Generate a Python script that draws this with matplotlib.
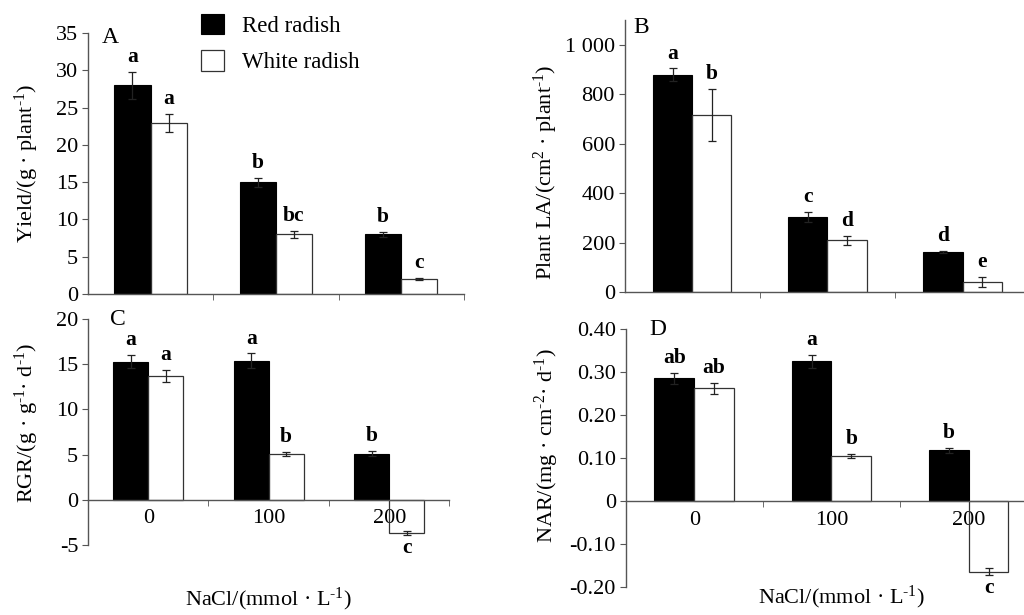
import matplotlib
matplotlib.use("Agg")
import matplotlib.pyplot as plt
import numpy as np

plt.rcParams['font.family'] = ['Liberation Serif', 'DejaVu Serif']
plt.rcParams['mathtext.fontset'] = 'custom'
plt.rcParams['mathtext.rm'] = 'Liberation Serif'
plt.rcParams['mathtext.it'] = 'Liberation Serif:italic'
plt.rcParams['mathtext.bf'] = 'Liberation Serif:bold'

categories = ["0", "100", "200"]
series_names = ["Red radish", "White radish"]

yield_red = [28.0, 15.0, 8.0]
yield_red_err = [1.8, 0.6, 0.3]
yield_white = [23.0, 8.0, 2.0]
yield_white_err = [1.2, 0.5, 0.1]
yield_red_sig = ["a", "b", "b"]
yield_white_sig = ["a", "bc", "c"]

la_red = [880, 305, 163]
la_red_err = [25, 20, 5]
la_white = [718, 210, 42]
la_white_err = [105, 18, 20]
la_red_sig = ["a", "c", "d"]
la_white_sig = ["b", "d", "e"]

rgr_red = [15.3, 15.4, 5.1]
rgr_red_err = [0.7, 0.8, 0.3]
rgr_white = [13.7, 5.1, -3.7]
rgr_white_err = [0.7, 0.2, 0.2]
rgr_red_sig = ["a", "a", "b"]
rgr_white_sig = ["a", "b", "c"]

nar_red = [0.285, 0.325, 0.118]
nar_red_err = [0.013, 0.015, 0.006]
nar_white = [0.262, 0.105, -0.165]
nar_white_err = [0.013, 0.005, 0.008]
nar_red_sig = ["ab", "a", "b"]
nar_white_sig = ["ab", "b", "c"]

yticks_A = [0, 5, 10, 15, 20, 25, 30, 35]
yticks_B = [0, 200, 400, 600, 800, 1000]
yticklabels_B = ["0", "200", "400", "600", "800", "1 000"]
yticks_C = [-5, 0, 5, 10, 15, 20]
yticklabels_C = ["-5", "0", "5", "10", "15", "20"]
yticks_D = [-0.2, -0.1, 0, 0.1, 0.2, 0.3, 0.4]
yticklabels_D = ["-0.20", "-0.10", "0", "0.10", "0.20", "0.30", "0.40"]

SPINE = '#555555'
TICKFS = 16
LABFS = 16

fig = plt.figure(figsize=(10.24, 6.15), dpi=100)

axA = fig.add_axes([0.0859, 0.522, 0.367, 0.424])
axB = fig.add_axes([0.610, 0.525, 0.396, 0.442])
axC = fig.add_axes([0.0859, 0.114, 0.353, 0.367])
axD = fig.add_axes([0.611, 0.046, 0.402, 0.419])

width = 0.29
x = np.arange(len(categories))


def panel(ax, red, red_err, white, white_err, red_sig, white_sig, ylim, yticks,
          yticklabels, ylabel, ylabel_xy, letter, letter_pos, show_xlabels):
    b1 = ax.bar(x - width / 2, red, width, color='black', edgecolor='black',
                linewidth=0.8, label=series_names[0], zorder=2)
    b2 = ax.bar(x + width / 2, white, width, facecolor='none', edgecolor='#333333',
                linewidth=0.9, label=series_names[1], zorder=2)
    ax.errorbar(x - width / 2, red, yerr=red_err, fmt='none', ecolor='#222222',
                elinewidth=0.9, capsize=3, capthick=0.9, zorder=3)
    ax.errorbar(x + width / 2, white, yerr=white_err, fmt='none', ecolor='#222222',
                elinewidth=0.9, capsize=3, capthick=0.9, zorder=3)
    for vals, errs, sigs, dx in ((red, red_err, red_sig, -width / 2),
                                 (white, white_err, white_sig, width / 2)):
        for xi, v, e, s in zip(x, vals, errs, sigs):
            if v >= 0:
                ax.annotate(s, (xi + dx, v + e), xytext=(0, 3.5),
                            textcoords='offset points', ha='center', va='bottom',
                            fontsize=15.5, fontweight='bold')
            else:
                ax.annotate(s, (xi + dx, v - e), xytext=(0, -2),
                            textcoords='offset points', ha='center', va='top',
                            fontsize=15.5, fontweight='bold')
    ax.set_xlim(-0.5, 2.5)
    ax.set_ylim(*ylim)
    ax.set_yticks(yticks)
    ax.set_yticklabels(yticklabels)
    for s in ('top', 'right'):
        ax.spines[s].set_visible(False)
    for s in ('left', 'bottom'):
        ax.spines[s].set_color(SPINE)
        ax.spines[s].set_linewidth(1.0)
    if ylim[0] < 0:
        ax.spines['bottom'].set_position(('data', 0))
    ax.set_xticks([0.5, 1.5, 2.5], minor=True)
    ax.set_xticks(x)
    if show_xlabels:
        ax.set_xticklabels(categories)
    else:
        ax.set_xticklabels([])
    ax.tick_params(axis='x', which='major', length=0, labelsize=TICKFS, pad=7)
    ax.tick_params(axis='x', which='minor', length=4, direction='out', color=SPINE)
    ax.tick_params(axis='y', length=4, direction='out', color=SPINE,
                   labelsize=TICKFS, pad=3)
    ax.set_ylabel(ylabel, fontsize=LABFS)
    ax.yaxis.set_label_coords(*ylabel_xy)
    ax.text(letter_pos[0], letter_pos[1], letter, transform=ax.transAxes,
            fontsize=17, ha='left', va='center')
    ax.patch.set_visible(False)
    return b1, b2


SUPM1 = r'$^{\text{-}1}$'
b1, b2 = panel(axA, yield_red, yield_red_err, yield_white, yield_white_err,
               yield_red_sig, yield_white_sig, (0, 35), yticks_A,
               [str(t) for t in yticks_A], 'Yield/(g · plant' + SUPM1 + ')', (-0.124, 0.5),
               'A', (0.037, 0.985), False)
panel(axB, la_red, la_red_err, la_white, la_white_err, la_red_sig, la_white_sig,
      (0, 1100), yticks_B, yticklabels_B,
      r'Plant LA/(cm$^{\text{2}}$ · plant' + SUPM1 + ')',
      (-0.16, 0.44), 'B', (0.022, 0.975), False)
panel(axC, rgr_red, rgr_red_err, rgr_white, rgr_white_err, rgr_red_sig, rgr_white_sig,
      (-5, 20), yticks_C, yticklabels_C, 'RGR/(g · g' + SUPM1 + '· d' + SUPM1 + ')',
      (-0.13, 0.54), 'C', (0.06, 1.0), True)
panel(axD, nar_red, nar_red_err, nar_white, nar_white_err, nar_red_sig, nar_white_sig,
      (-0.2, 0.4), yticks_D, yticklabels_D,
      r'NAR/(mg · cm$^{\text{-}2}$· d' + SUPM1 + ')',
      (-0.157, 0.547), 'D', (0.058, 1.0), True)

axC.set_xlabel('NaCl/(mmol · L' + SUPM1 + ')', fontsize=LABFS)
axC.xaxis.set_label_coords(0.5, -0.18)
axD.set_xlabel('NaCl/(mmol · L' + SUPM1 + ')', fontsize=LABFS)
axD.xaxis.set_label_coords(0.525, 0.01)

fig.legend([b1, b2], series_names, loc='upper left', bbox_to_anchor=(0.196, 0.978),
           frameon=False, fontsize=16.5, handlelength=1.0, handleheight=1.0,
           handletextpad=0.8, labelspacing=0.6, borderpad=0, borderaxespad=0)

fig.savefig('out.png', dpi=100)
